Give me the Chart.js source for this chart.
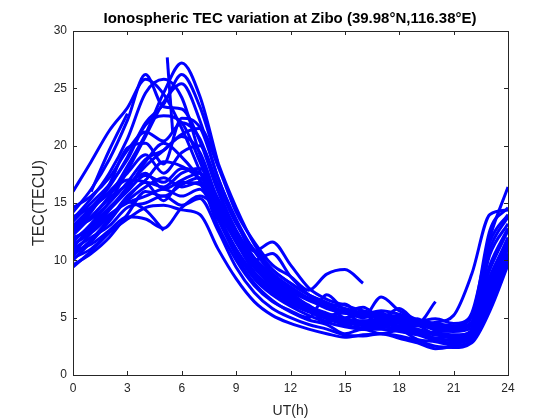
<!DOCTYPE html>
<html>
<head>
<meta charset="utf-8">
<script src="https://cdn.jsdelivr.net/npm/chart.js@4/dist/chart.umd.min.js"></script>
<style>
  html, body { margin: 0; padding: 0; background: #fff; }
  #wrap { width: 560px; height: 420px; }
</style>
</head>
<body>
<div id="wrap"><canvas id="tecChart" width="560" height="420"></canvas></div>
<script>
// hourly samples (UT)
const hours = [0,1,2,3,4,5,6,7,8,9,10,11,12,13,14,15,16,17,18,19,20,21,22,23,24];
const xTicks = [0,3,6,9,12,15,18,21,24];
const yTicks = [0,5,10,15,20,25,30];

// daily TEC curves (null = no data)
const day01 = [16.0,18.6,21.3,23.3,25.8,24.5,21.5,17.8,14.2,11.8,9.8,8.4,7.3,6.5,5.9,5.4,5.1,5.0,4.7,4.4,4.1,4.0,4.4,10.5,13.2];
const day02 = [12.2,13.8,15.6,18.2,21.0,24.6,27.2,24.3,18.5,null,null,null,null,null,null,null,null,null,null,null,null,null,null,null,null];
const day03 = [13.0,14.6,16.4,19.0,22.0,23.6,26.2,23.4,18.5,14.6,11.4,9.2,8.0,7.0,6.3,5.8,5.4,5.1,4.9,4.6,4.2,4.0,4.3,8.6,11.8];
const day04 = [11.6,13.2,15.1,17.8,20.8,23.8,25.4,22.2,17.2,13.6,10.8,8.9,7.6,6.6,6.2,5.0,5.3,4.4,4.8,3.9,3.7,3.5,3.7,7.4,11.0];
const day05 = [14.2,16.2,18.8,22.2,26.2,23.4,23.2,20.4,16.0,12.6,10.2,8.8,7.7,6.7,6.0,5.6,5.3,5.1,4.9,4.6,4.3,4.1,4.6,11.0,13.8];
const day06 = [13.6,15.4,17.6,20.6,24.6,25.8,24.2,19.2,14.8,11.6,9.4,8.1,7.0,6.1,5.2,5.4,4.5,4.9,4.0,4.3,3.5,3.4,3.9,7.8,11.2];
const day07 = [12.4,14.2,16.6,19.8,20.2,18.4,22.4,21.6,17.2,13.4,10.8,11.6,9.6,7.6,6.6,6.1,5.6,5.3,5.1,4.7,4.3,4.1,4.6,9.2,12.6];
const day08 = [10.6,12.4,14.4,16.4,18.2,19.6,21.0,21.5,18.2,14.2,11.6,9.6,8.6,7.4,8.8,9.2,8.0,null,null,null,null,null,null,null,null];
const day09 = [11.2,12.8,14.4,16.0,17.4,16.8,18.0,17.6,15.0,12.0,10.0,10.6,8.6,7.0,6.0,6.2,5.0,5.4,4.6,4.9,3.9,3.8,4.1,8.4,12.0];
const day10 = [10.0,11.6,13.4,15.4,16.8,16.4,17.6,18.0,15.4,12.4,10.0,8.4,7.2,6.0,5.1,4.6,4.3,4.2,4.0,3.6,3.2,3.0,3.4,6.4,10.2];
const day11 = [13.0,13.8,15.4,16.6,17.6,16.2,17.0,17.6,14.6,11.6,9.0,7.6,6.6,5.7,4.7,4.9,4.0,4.6,4.1,3.9,3.2,3.4,3.6,7.0,10.6];
const day12 = [9.6,10.6,12.0,14.0,16.0,15.6,16.6,17.2,14.0,10.8,8.4,7.0,6.0,5.2,4.6,4.2,4.0,4.0,3.8,3.5,3.0,2.8,3.2,6.0,9.8];
const day13 = [12.0,12.6,14.0,15.0,15.6,16.2,15.6,16.2,13.6,10.4,8.0,6.5,5.5,4.8,4.4,3.6,4.0,3.6,3.9,3.1,2.9,2.6,3.0,6.6,10.6];
const day14 = [11.0,12.0,13.0,14.6,15.0,15.6,14.8,15.4,12.6,9.4,7.2,5.8,5.0,4.4,4.0,3.5,3.4,3.6,3.4,3.0,2.5,2.4,2.8,5.6,9.6];
const day15 = [10.2,11.0,12.4,13.6,14.6,14.8,14.4,14.0,11.0,8.4,6.4,5.2,4.5,4.0,3.6,3.3,3.5,3.6,3.2,2.8,2.3,2.5,3.0,6.2,10.0];
const day16 = [14.6,15.6,17.2,19.6,21.2,20.4,22.0,20.6,16.2,12.6,10.2,8.6,7.5,6.6,5.8,5.4,5.3,5.6,5.3,4.8,4.5,4.3,5.0,11.6,14.0];
const day17 = [12.6,14.4,16.0,17.6,19.2,17.6,19.4,20.0,16.6,13.2,10.9,9.2,8.0,7.0,6.3,5.5,5.9,5.0,5.8,4.7,4.9,4.5,5.2,12.6,14.6];
const day18 = [13.8,14.6,15.8,17.0,16.8,15.2,16.8,16.6,13.0,10.0,7.8,6.4,5.6,5.0,7.0,5.6,5.0,6.8,5.6,4.8,4.3,4.1,4.6,9.6,12.8];
const day19 = [11.8,13.0,14.6,16.2,18.6,20.2,19.0,17.0,13.6,10.6,8.6,7.2,6.2,5.5,5.0,4.8,4.7,4.9,4.7,4.5,6.4,null,null,null,null];
const day20 = [10.8,11.4,12.6,13.8,13.6,12.8,14.6,15.6,14.4,12.0,9.8,8.0,6.8,5.8,5.2,4.8,4.5,4.4,4.3,4.0,3.6,3.4,3.8,8.0,11.6];
const day21 = [12.8,13.6,15.0,16.8,18.8,19.6,20.8,19.4,15.2,11.8,9.6,8.2,7.0,6.0,5.4,4.9,4.6,4.6,4.5,4.3,4.6,5.2,8.8,14.0,14.4];
const day22 = [13.4,15.0,16.6,18.8,21.8,22.6,22.0,18.6,14.6,11.6,9.4,7.9,6.8,5.9,5.3,4.9,4.7,4.8,4.6,4.4,4.0,4.2,5.4,12.0,16.4];
const day23 = [10.4,11.8,13.6,15.6,17.0,18.6,18.2,17.0,14.0,11.0,8.8,7.4,6.4,5.6,5.2,4.4,4.7,4.2,4.6,3.7,3.5,3.2,3.6,7.6,11.4];
const day24 = [11.4,12.4,13.8,15.2,16.4,17.2,16.4,16.8,14.8,11.8,9.4,7.8,6.6,5.6,4.9,4.4,4.1,4.2,4.0,3.7,3.2,3.0,3.4,6.8,10.4];
const part01 = [null,16.0,19.6,22.8,null,null,null,null,null,null,null,null,null,null,null,null,null,null,null,null,null,null,null,null,null];
const part02 = [9.4,10.8,12.4,null,null,null,null,null,null,null,null,null,null,null,null,null,null,null,null,null,null,null,null,null,null];
const part03 = [null,null,null,15.2,14.4,12.6,null,null,null,null,null,null,null,null,null,null,null,null,null,null,null,null,null,null,null];
// short jump in one record
const jumpHours = [5.2, 5.5];
const jumpTec = [27.7, 21.2];

const curves = [day01,day02,day03,day04,day05,day06,day07,day08,day09,day10,day11,day12,
                day13,day14,day15,day16,day17,day18,day19,day20,day21,day22,day23,day24,
                part01,part02,part03];

const fontFam = "'Liberation Sans', Arial, Helvetica, sans-serif";
const axisColor = '#262626';

function lineSet(xs, ys) {
    return {
        data: xs.map((h, i) => ({ x: h, y: ys[i] })),
        borderColor: '#0000ff',
        borderWidth: 3,
        pointRadius: 0,
        fill: false,
        spanGaps: false,
        cubicInterpolationMode: 'monotone'
    };
}

const datasets = curves.map(c => lineSet(hours, c));
datasets.push(lineSet(jumpHours, jumpTec));

// MATLAB style box with inward ticks on all four sides
const boxPlugin = {
    id: 'boxPlugin',
    afterDatasetsDraw(chart) {
        const { ctx, chartArea: a, scales } = chart;
        const tl = 4;
        ctx.save();
        ctx.strokeStyle = axisColor;
        ctx.lineWidth = 1;
        ctx.strokeRect(a.left + 0.5, a.top + 0.5, a.right - a.left, a.bottom - a.top);
        ctx.beginPath();
        xTicks.forEach(v => {
            const px = Math.round(scales.x.getPixelForValue(v)) + 0.5;
            ctx.moveTo(px, a.bottom); ctx.lineTo(px, a.bottom - tl);
            ctx.moveTo(px, a.top); ctx.lineTo(px, a.top + tl);
        });
        yTicks.forEach(v => {
            const py = Math.round(scales.y.getPixelForValue(v)) + 0.5;
            ctx.moveTo(a.left, py); ctx.lineTo(a.left + tl, py);
            ctx.moveTo(a.right, py); ctx.lineTo(a.right - tl, py);
        });
        ctx.stroke();
        ctx.restore();
    }
};

const ctx = document.getElementById('tecChart').getContext('2d');
const tecChart = new Chart(ctx, {
    type: 'line',
    data: { datasets: datasets },
    options: {
        responsive: false,
        animation: false,
        layout: { padding: { left: 20, right: 0, top: 0, bottom: 0 } },
        plugins: {
            legend: { display: false },
            tooltip: { enabled: false },
            title: {
                display: true,
                text: 'Ionospheric TEC variation at Zibo (39.98°N,116.38°E)',
                color: '#000',
                font: { family: fontFam, size: 15, weight: 'bold' },
                padding: { top: 10, bottom: 3 }
            }
        },
        scales: {
            x: {
                type: 'linear',
                min: 0,
                max: 24,
                afterBuildTicks: s => { s.ticks = xTicks.map(v => ({ value: v })); },
                afterFit: s => { s.height = 45; },
                grid: { display: false, drawTicks: false },
                border: { display: false },
                ticks: { color: axisColor, padding: 6, maxRotation: 0, font: { family: fontFam, size: 12 } },
                title: {
                    display: true,
                    text: 'UT(h)',
                    color: axisColor,
                    padding: { top: 2, bottom: 0 },
                    font: { family: fontFam, size: 14 }
                }
            },
            y: {
                min: 0,
                max: 30,
                afterBuildTicks: s => { s.ticks = yTicks.map(v => ({ value: v })); },
                afterFit: s => { s.width = 53; },
                grid: { display: false, drawTicks: false },
                border: { display: false },
                ticks: { color: axisColor, padding: 6, font: { family: fontFam, size: 12 } },
                title: {
                    display: true,
                    text: 'TEC(TECU)',
                    color: axisColor,
                    padding: { top: 10, bottom: 0 },
                    font: { family: fontFam, size: 16 }
                }
            },
            yRight: {
                position: 'right',
                min: 0,
                max: 30,
                afterFit: s => { s.width = 52; },
                grid: { display: false, drawTicks: false },
                border: { display: false },
                ticks: { display: false }
            }
        }
    },
    plugins: [boxPlugin]
});
</script>
</body>
</html>
